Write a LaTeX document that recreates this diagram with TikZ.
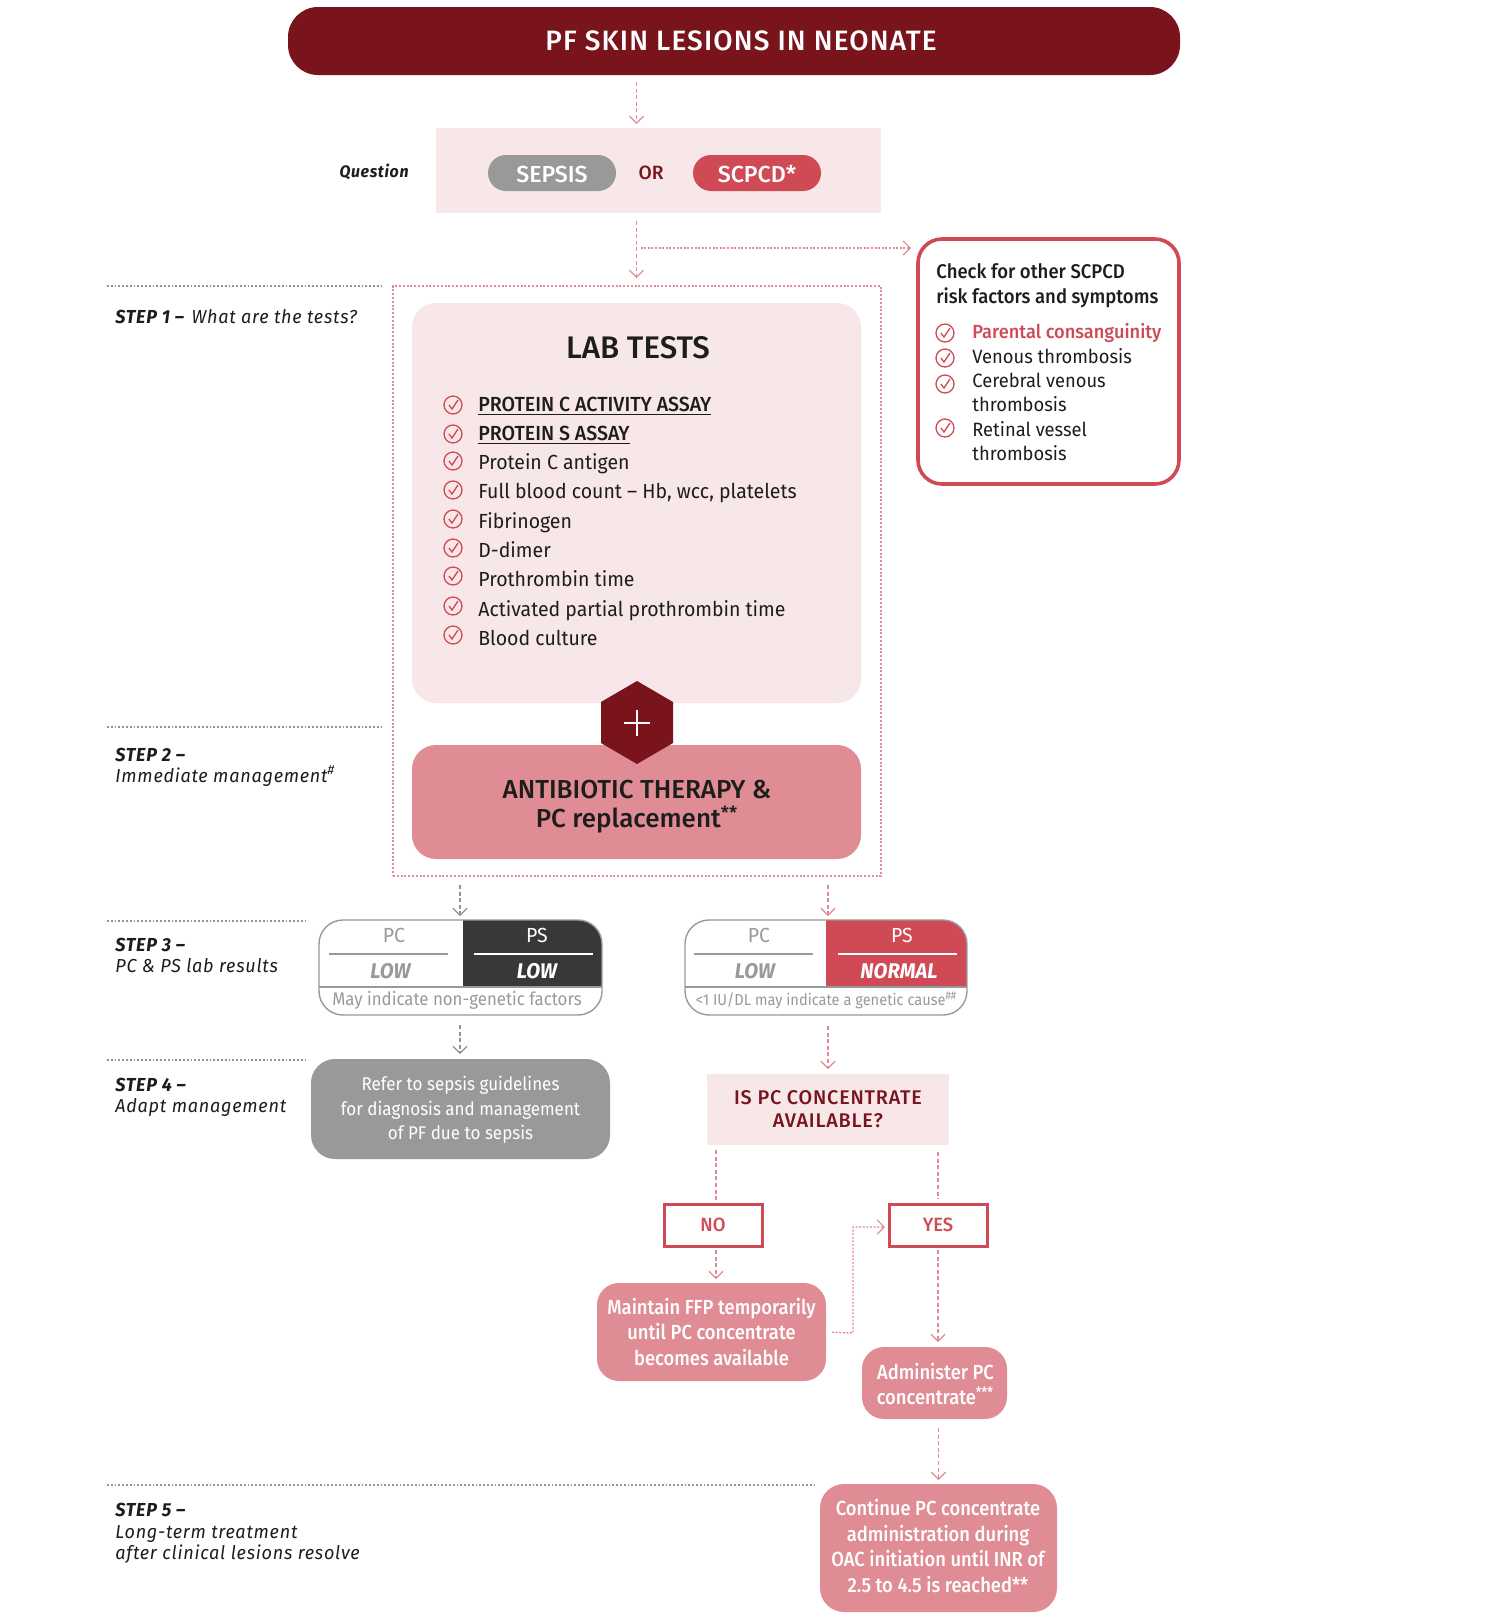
\documentclass[tikz,border=0pt]{standalone}
\usepackage{fontspec}
\setmainfont[FakeStretch=0.955]{Fira Sans}
\newfontfamily\fmed[FakeStretch=0.96]{Fira Sans Medium}
\newfontfamily\fplain{Fira Sans Medium}
\newfontfamily\fcond[FakeStretch=0.9]{Fira Sans Medium}
\newfontfamily\fcnd[FakeStretch=0.925]{Fira Sans}
\newfontfamily\fcne[FakeStretch=0.935]{Fira Sans Medium}
\newfontfamily\fsp[LetterSpace=4,FakeStretch=0.96]{Fira Sans}
\newfontfamily\fmedsp[LetterSpace=4]{Fira Sans Medium}
\usetikzlibrary{arrows.meta,calc}
\definecolor{cdark}{HTML}{7A141C}
\definecolor{cpale}{HTML}{F7E7E9}
\definecolor{cred}{HTML}{D04A55}
\definecolor{crose}{HTML}{E08C94}
\definecolor{cgray}{HTML}{999999}
\definecolor{cblack}{HTML}{383838}
\definecolor{ctext}{HTML}{1D1D1B}
\definecolor{carrow}{HTML}{E58A94}
\definecolor{cgline}{HTML}{939393}
\newcommand{\bx}[7][]{%
  \pgfmathsetmacro\bxcx{(#4+#6)/2}\pgfmathsetmacro\bxcy{(#5+#7)/2}%
  \pgfmathsetmacro\bxw{(#6-#4)*0.5}\pgfmathsetmacro\bxh{(#7-#5)*0.5}%
  \node[inner sep=0pt,outer sep=0pt,minimum width=\bxw pt,minimum height=\bxh pt,align=center,#1] (#2) at (\bxcx,\bxcy) {#3};}
\tikzset{
  x=0.5pt,y=-0.5pt,
  redarr/.style={draw=carrow,line width=0.6pt,dash pattern=on 2pt off 1.3pt,-{Straight Barb[length=3.5pt,width=7pt,line width=0.6pt]}},
  grayarr/.style={draw=cgline,line width=0.6pt,dash pattern=on 2pt off 1.3pt,-{Straight Barb[length=3.5pt,width=7pt,line width=0.6pt]}},
  dotarr/.style={draw=carrow,line width=0.7pt,dash pattern=on 1pt off 0.8pt,-{Straight Barb[length=3.5pt,width=7pt,line width=0.6pt]}},
  plainred/.style={draw=carrow,line width=0.6pt,dash pattern=on 2pt off 1.3pt},
  stepline/.style={draw=cgline,line width=0.6pt,dash pattern=on 0.9pt off 1pt},
  steptxt/.style={anchor=mid west,inner sep=0pt,align=left,text=ctext,font=\fontsize{9.4pt}{10.4pt}\selectfont\fsp\itshape},
  listtxt/.style={anchor=mid west,inner sep=0pt,text=ctext,font=\fontsize{10.2pt}{12pt}\selectfont},
  sidetxt/.style={anchor=mid west,inner sep=0pt,text=ctext,font=\fontsize{9.6pt}{12pt}\selectfont},
  celltxt/.style={inner sep=0pt,anchor=mid,font=\fontsize{10.2pt}{12pt}\selectfont},
  lowtxt/.style={inner sep=0pt,anchor=mid,font=\fontsize{10.6pt}{12pt}\selectfont\bfseries\itshape},
  rosebox/.style={fill=crose,rounded corners=11pt,text=white,font=\fontsize{10.2pt}{12.8pt}\selectfont\fcond},
  chk/.pic={
    \draw[cred,line width=0.65pt] (0,0) circle (9);
    \draw[cred,line width=0.65pt] (-4,0) -- (-1,4) -- (5,-5);
  },
}
\begin{document}
\begin{tikzpicture}
\useasboundingbox (0,0) rectangle (1500,1619);
\fill[white] (0,0) rectangle (1500,1619);

% step rules
\coordinate (s1a) at (107,286); \coordinate (s1b) at (384,286);
\coordinate (s2a) at (107,727); \coordinate (s2b) at (384,727);
\coordinate (s3a) at (107,921); \coordinate (s3b) at (306,921);
\coordinate (s4a) at (107,1060); \coordinate (s4b) at (306,1060);
\coordinate (s5a) at (107,1485); \coordinate (s5b) at (814,1485);
\draw[stepline] (s1a)--(s1b); \draw[stepline] (s2a)--(s2b); \draw[stepline] (s3a)--(s3b);
\draw[stepline] (s4a)--(s4b); \draw[stepline] (s5a)--(s5b);

\node[steptxt] (st1) at (115,318) {{\bfseries STEP 1 –\hspace{1.3pt} }What are the tests?};
\node[steptxt] (st2a) at (115,756) {{\bfseries STEP 2 –}};
\node[steptxt] (st2b) at (115,777) {Immediate management\textsuperscript{\#}};
\node[steptxt] (st3a) at (115,946) {{\bfseries STEP 3 –}};
\node[steptxt] (st3b) at (115,967) {PC \& PS lab results};
\node[steptxt] (st4a) at (115,1086) {{\bfseries STEP 4 –}};
\node[steptxt] (st4b) at (115,1107.5) {Adapt management};
\node[steptxt] (st5a) at (115,1511) {{\bfseries STEP 5 –}};
\node[steptxt] (st5b) at (115,1533) {Long-term treatment};
\node[steptxt] (st5c) at (115,1554) {after clinical lesions resolve};

% title
\bx[fill=cdark,rounded corners=15pt]{title}{}{288}{7}{1180}{75}
\node[inner sep=0pt,text=white,font=\fontsize{14pt}{16pt}\selectfont\fmedsp] (titlet) at (741,41) {PF SKIN LESIONS IN NEONATE};

% question
\bx[fill=cpale]{qbox}{}{436}{128}{881}{213}
\node[anchor=mid east,inner sep=0pt,text=ctext,font=\fontsize{8.3pt}{10pt}\selectfont\fsp\bfseries\itshape] (qlab) at (409,172) {Question};
\bx[fill=cgray,rounded corners=9pt]{sepsis}{}{488}{155}{616}{191}
\node[inner sep=0pt,text=white,font=\fontsize{11.6pt}{14pt}\selectfont\fplain] (sepsist) at (552,174.5) {SEPSIS};
\node[inner sep=0pt,text=cdark,font=\fontsize{9.6pt}{12pt}\selectfont\fplain] (ortxt) at (651,172.5) {OR};
\bx[fill=cred,rounded corners=9pt]{scpcd}{}{693}{155}{821}{191}
\node[inner sep=0pt,text=white,font=\fontsize{11.6pt}{14pt}\selectfont\fplain] (scpcdt) at (757,174.5) {SCPCD*};

% outer dotted frame
\bx[draw=carrow,line width=0.55pt,dash pattern=on 1pt off 0.9pt]{frame}{}{393}{286}{881}{876}

% lab tests
\bx[fill=cpale,rounded corners=12pt]{lab}{}{412}{303}{861}{703}
\node[inner sep=0pt,text=ctext,font=\fontsize{15.6pt}{18pt}\selectfont\fplain] (labt) at (638,348) {LAB TESTS};
\foreach \yy in {405,434,461,490,519,548,576,606,635} \pic at (453,\yy) {chk};
\node[listtxt,font=\fontsize{10.2pt}{12pt}\selectfont\fmed] (l1) at (478,406) {\underline{PROTEIN C ACTIVITY ASSAY}};
\node[listtxt,font=\fontsize{10.2pt}{12pt}\selectfont\fmed] (l2) at (478,435) {\underline{PROTEIN S ASSAY}};
\node[listtxt] (l3) at (478,464) {Protein C antigen};
\node[listtxt] (l4) at (478,493) {Full blood count – Hb, wcc, platelets};
\node[listtxt] (l5) at (478,523) {Fibrinogen};
\node[listtxt] (l6) at (478,552) {D-dimer};
\node[listtxt] (l7) at (478,581) {Prothrombin time};
\node[listtxt] (l8) at (478,611) {Activated partial prothrombin time};
\node[listtxt] (l9) at (478,640) {Blood culture};

% antibiotic
\bx[fill=crose,rounded corners=12pt]{anti}{}{412}{745}{861}{859}
\node[inner sep=0pt,align=center,text=ctext,font=\fontsize{13pt}{14.4pt}\selectfont\fplain] (antit) at (637,807) {ANTIBIOTIC THERAPY \&\\PC replacement\textsuperscript{**}};
\fill[cdark] (637,681) -- (673,702) -- (673,743) -- (637,764) -- (601,743) -- (601,702) -- cycle;
\draw[white,line width=0.8pt] (624,723) -- (650,723) (637,710) -- (637,736);

% side box
\bx[draw=cred,line width=1.8pt,rounded corners=12pt]{side}{}{918}{239}{1179}{484}
\node[anchor=north west,inner sep=0pt,align=left,text=ctext,font=\fontsize{9.9pt}{12.4pt}\selectfont\fcne] (sidet) at (936,263) {Check for other SCPCD\\risk factors and symptoms};
\foreach \yy in {333,358,384,428} \pic at (945,\yy) {chk};
\node[sidetxt,text=cred,font=\fontsize{9.5pt}{12pt}\selectfont\fmed] (r1) at (972,333) {Parental consanguinity};
\node[sidetxt] (r2) at (972,358) {Venous thrombosis};
\node[sidetxt] (r3) at (972,382) {Cerebral venous};
\node[sidetxt] (r3b) at (972,406) {thrombosis};
\node[sidetxt] (r4) at (972,431) {Retinal vessel};
\node[sidetxt] (r4b) at (972,455) {thrombosis};

% table 1
\bx{t1}{}{319}{920}{602}{1015}
\begin{scope}
\clip[rounded corners=12pt] (t1.south west) rectangle (t1.north east);
\fill[cblack] (463,920) rectangle (602,987);
\end{scope}
\draw[cgray,line width=0.7pt,rounded corners=12pt] (t1.south west) rectangle (t1.north east);
\draw[cgray,line width=0.8pt] (319,987) -- (602,987);
\draw[cgray,line width=0.6pt] (329,954) -- (448,954);
\draw[white,line width=0.6pt] (474,954) -- (593,954);
\node[celltxt,text=cgray] (t1a) at (394,937) {PC};
\node[celltxt,text=white] (t1b) at (537,937) {PS};
\node[lowtxt,text=cgray] (t1c) at (390.5,973) {LOW};
\node[lowtxt,text=white] (t1d) at (537,973) {LOW};
\node[inner sep=0pt,anchor=mid,text=cgray,font=\fontsize{9.1pt}{11pt}\selectfont\fcnd] (t1n) at (457,1000.5) {May indicate non-genetic factors};

% table 2
\bx{t2}{}{685}{920}{967}{1015}
\begin{scope}
\clip[rounded corners=12pt] (t2.south west) rectangle (t2.north east);
\fill[cred] (826,920) rectangle (967,987);
\end{scope}
\draw[cgray,line width=0.7pt,rounded corners=12pt] (t2.south west) rectangle (t2.north east);
\draw[cgray,line width=0.8pt] (685,987) -- (967,987);
\draw[cgray,line width=0.6pt] (694,954) -- (813,954);
\draw[white,line width=0.6pt] (838,954) -- (957,954);
\node[celltxt,text=cgray] (t2a) at (759,937) {PC};
\node[celltxt,text=white] (t2b) at (902,937) {PS};
\node[lowtxt,text=cgray] (t2c) at (755,973) {LOW};
\node[lowtxt,text=white] (t2d) at (899,973) {NORMAL};
\node[inner sep=0pt,anchor=mid,text=cgray,font=\fontsize{7.9pt}{10pt}\selectfont\fcnd] (t2n) at (826.5,1000) {<1 IU/DL may indicate a genetic cause\textsuperscript{\#\#}};

% step 4
\bx[fill=cgray,rounded corners=12pt]{refer}{}{311}{1059}{610}{1159}
\node[inner sep=0pt,align=center,text=white,font=\fontsize{9.2pt}{12.2pt}\selectfont\fcnd] (refert) at (460.5,1110) {Refer to sepsis guidelines\\for diagnosis and management\\of PF due to sepsis};
\bx[fill=cpale,text=cdark,font=\fontsize{9.9pt}{11.6pt}\selectfont\fmedsp]{avail}{IS PC CONCENTRATE\\AVAILABLE?}{707}{1074}{949}{1145}

% yes/no
\bx[draw=cred,line width=1.5pt,text=cred,font=\fontsize{9.6pt}{12pt}\selectfont\fmed]{no}{NO}{664}{1204}{762}{1246}
\bx[draw=cred,line width=1.5pt,text=cred,font=\fontsize{9.6pt}{12pt}\selectfont\fmed]{yes}{YES}{889}{1204}{987}{1246}
\bx[rosebox]{ffp}{Maintain FFP temporarily\\until PC concentrate\\becomes available}{597}{1283}{826}{1381}
\bx[rosebox]{admin}{}{862}{1347}{1007}{1419}
\node[inner sep=0pt,align=center,text=white,font=\fontsize{10.2pt}{12.8pt}\selectfont\fcond] (admint) at (935.5,1384) {Administer PC\\concentrate\textsuperscript{***}};
\bx[rosebox,rounded corners=12pt]{cont}{}{820}{1484}{1057}{1612}
\node[inner sep=0pt,align=center,text=white,font=\fontsize{10.2pt}{12.8pt}\selectfont\fcond] (contt) at (938,1546) {Continue PC concentrate\\administration during\\OAC initiation until INR of\\2.5 to 4.5 is reached**};

% connectors
\draw[redarr,shorten <=3.5pt,shorten >=2pt] (title.south -| lab.north) -- (qbox.north -| lab.north);
\draw[redarr,shorten <=4pt,shorten >=4pt] (qbox.south -| lab.north) -- (frame.north -| lab.north);
\coordinate (br) at (lab.north |- 0,248);
\draw[dotarr,shorten <=2pt,shorten >=3.5pt] (br) -- (br -| side.west);
\coordinate (gx) at (460,0); \coordinate (rx) at (828,0);
\draw[grayarr,shorten <=4.5pt,shorten >=2pt] (frame.south -| gx) -- (t1.north -| gx);
\draw[redarr,shorten <=4.5pt,shorten >=2pt] (frame.south -| rx) -- (t2.north -| rx);
\draw[grayarr,shorten <=5pt,shorten >=2.5pt] (t1.south -| gx) -- (refer.north -| gx);
\draw[redarr,shorten <=5.5pt,shorten >=2.5pt] (t2.south -| avail.north) -- (avail.north);
\coordinate (nx) at (716,0);
\draw[plainred,shorten <=2.5pt,shorten >=1pt] (avail.south -| nx) -- (no.north -| nx);
\draw[plainred,shorten <=3.5pt,shorten >=2.5pt] (avail.south -| yes.north) -- (yes.north);
\draw[redarr,shorten <=2pt,shorten >=2pt] (no.south -| nx) -- (ffp.north -| nx);
\draw[redarr,shorten <=2pt,shorten >=2.5pt] (yes.south) -- (admin.north -| yes.south);
\draw[redarr,shorten <=4.5pt,shorten >=2pt] (admin.south -| cont.north) -- (cont.north);
\draw[dotarr,shorten <=3pt,shorten >=2pt] (ffp.east) -- (853,1333) -- (853,1227) -- (yes.west |- 0,1227);
\end{tikzpicture}
\end{document}
